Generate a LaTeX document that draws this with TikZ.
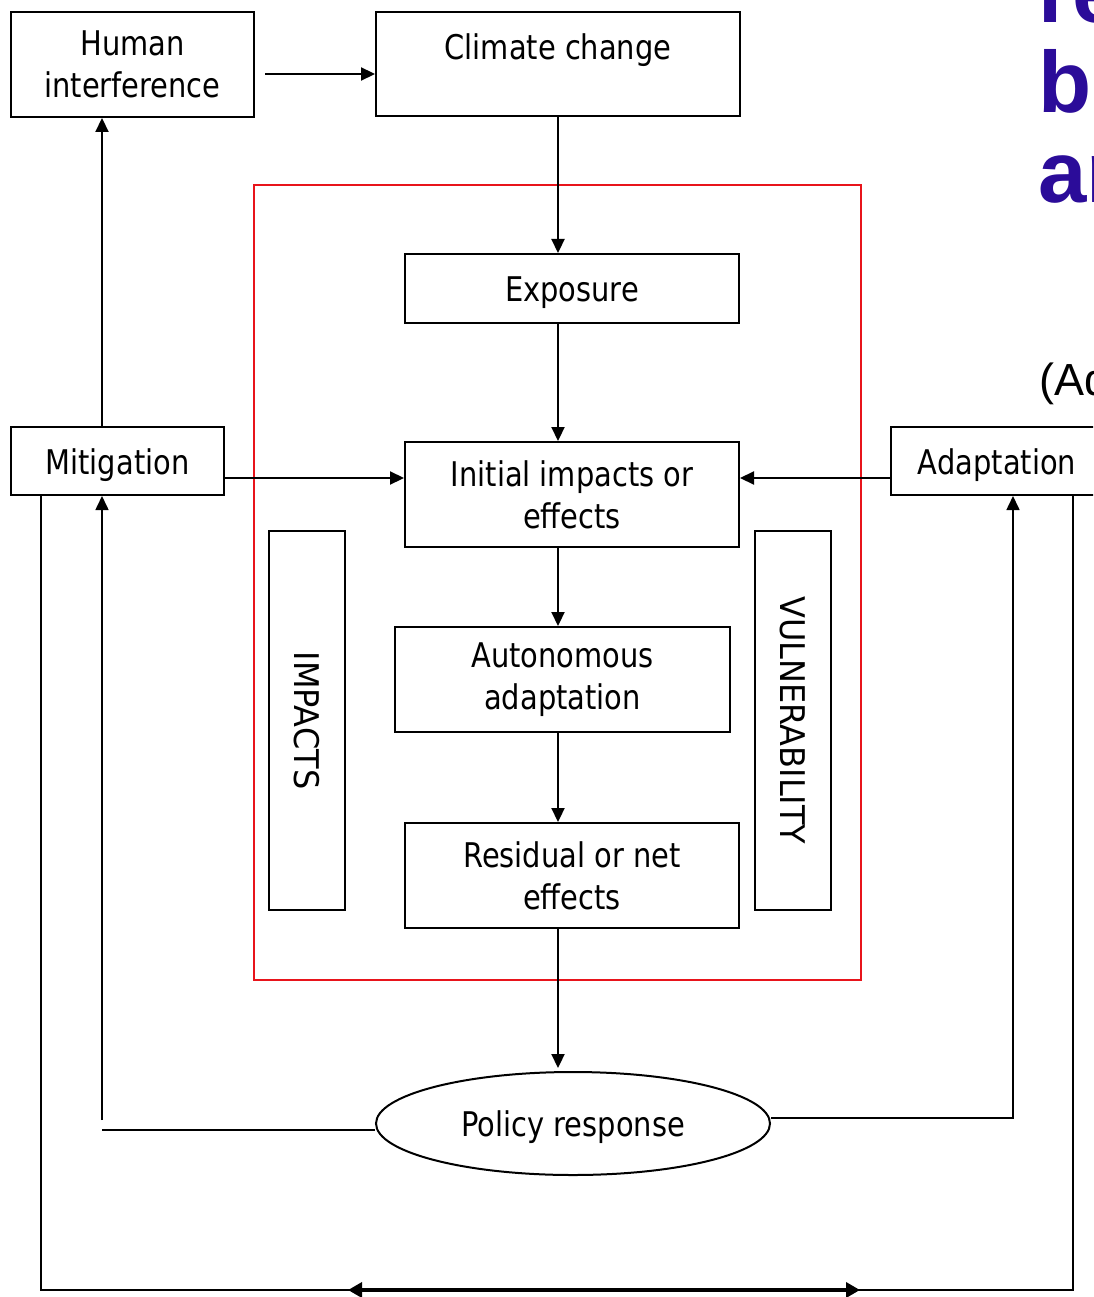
\documentclass[tikz,border=0pt]{standalone}
\usepackage{fontspec}
\setmainfont{DejaVu Sans}[FakeStretch=0.85]
\newfontfamily\capsf{DejaVu Sans}[FakeStretch=0.94]
\newfontfamily\arialf{Liberation Sans}
\usetikzlibrary{arrows.meta,shapes.geometric,calc}
\definecolor{titleblue}{HTML}{2B0C99}
\definecolor{framered}{HTML}{E8141B}
\begin{document}
\begin{tikzpicture}[x=1pt,y=-1pt,
  box/.style={draw=black, line width=2pt, inner sep=0pt, align=center, font=\fontsize{34}{42}\selectfont},
  onebox/.style={box, text height=26pt, text depth=0pt},
  sidebox/.style={box, rotate=-90, minimum width=379pt, minimum height=76pt, font=\capsf\fontsize{34}{42}\selectfont, text height=26pt, text depth=0pt},
  conn/.style={line width=2.2pt, -{Triangle[length=14pt,width=13pt]}},
  thinconn/.style={line width=1.6pt, -{Triangle[length=14pt,width=13pt]}},
  thinline/.style={line width=1.6pt},
  bigtitle/.style={anchor=base west, inner sep=0pt, text=titleblue, font=\arialf\bfseries\fontsize{87}{90}\selectfont},
  ]
\path[use as bounding box] (0,0) rectangle (1093,1297);
\clip (0,0) rectangle (1093,1297);
\fill[white] (0,0) rectangle (1093,1297);

% red frame
\node[draw=framered, line width=1.8pt, inner sep=0pt, minimum width=607pt, minimum height=795pt] (frame) at (557.5,582.5) {};

% boxes
\node[box, minimum width=243pt, minimum height=105pt] (hi) at (132.5,64.5) {Human\\interference};
\node[box, minimum width=364pt, minimum height=104pt] (cc) at (558,64) {};
\node[anchor=base, inner sep=0pt, font=\fontsize{34}{42}\selectfont] (cct) at (558,60) {Climate change};
\node[onebox, minimum width=334pt, minimum height=69pt] (exp) at (572,288.5) {Exposure};
\node[box, minimum width=334pt, minimum height=105pt] (init) at (572,494.5) {Initial impacts or\\effects};
\node[onebox, minimum width=213pt, minimum height=68pt] (mit) at (117.5,461) {Mitigation};
\node[onebox, minimum width=212pt, minimum height=68pt] (ada) at (997,461) {Adaptation};
\node[box, minimum width=335pt, minimum height=105pt] (auto) at (562.5,679.5) {Autonomous\\adaptation};
\node[box, minimum width=334pt, minimum height=105pt] (res) at (572,875.5) {Residual or net\\effects};
\node[onebox, ellipse, minimum width=394pt, minimum height=103pt] (pol) at (573,1123.5) {Policy response};
\node[sidebox] (imp) at (307,720.5) {IMPACTS};
\node[sidebox] (vul) at (793,720.5) {VULNERABILITY};

% helper coordinates
\coordinate (xL) at (102,0);
\coordinate (xR) at (1013,0);
\coordinate (xLL) at (41,0);
\coordinate (xRR) at (1073,0);
\coordinate (yM) at (0,478);
\coordinate (yH) at (0,74);
\coordinate (yP1) at (0,1130);
\coordinate (yP0) at (0,1120);
\coordinate (yP2) at (0,1118);
\coordinate (yB) at (0,1290);
\coordinate (bA) at (348,1290);
\coordinate (bB) at (860,1290);

% connectors
\draw[conn, shorten <=10pt] (hi.east |- yH) -- (cc.west |- yH);
\draw[conn] (cc.south) -- (exp.north -| cc.south);
\draw[conn] (exp.south -| cc.south) -- (init.north -| cc.south);
\draw[conn] (mit.east |- yM) -- (init.west |- yM);
\draw[conn] (ada.west |- yM) -- (init.east |- yM);
\draw[conn] (init.south -| cc.south) -- (auto.north -| cc.south);
\draw[conn] (auto.south -| cc.south) -- (res.north -| cc.south);
\draw[conn, shorten >=3pt] (res.south -| cc.south) -- (pol.north -| cc.south);
\draw[conn] (mit.north -| xL) -- (hi.south -| xL);
\draw[thinline] (pol.west |- yP1) -- (xL |- yP1);
\draw[thinconn] (xL |- yP0) -- (mit.south -| xL);
\draw[thinconn] (pol.east |- yP2) -| (ada.south -| xR);
\draw[thinline] (mit.south -| xLL) |- (xRR |- yB) -- (ada.south -| xRR);
\draw[line width=4pt, {Triangle[length=14pt,width=15pt]}-{Triangle[length=14pt,width=15pt]}] (bA) -- (bB);

% clipped title text at right
\node[bigtitle] (t1) at (1038,23) {re};
\node[bigtitle] (t2) at (1038,113) {b};
\node[bigtitle] (t3) at (1038,203) {an};
\node[anchor=base west, inner sep=0pt, font=\arialf\fontsize{45}{54}\selectfont] (t4) at (1039,395) {(Ad};
\end{tikzpicture}
\end{document}
